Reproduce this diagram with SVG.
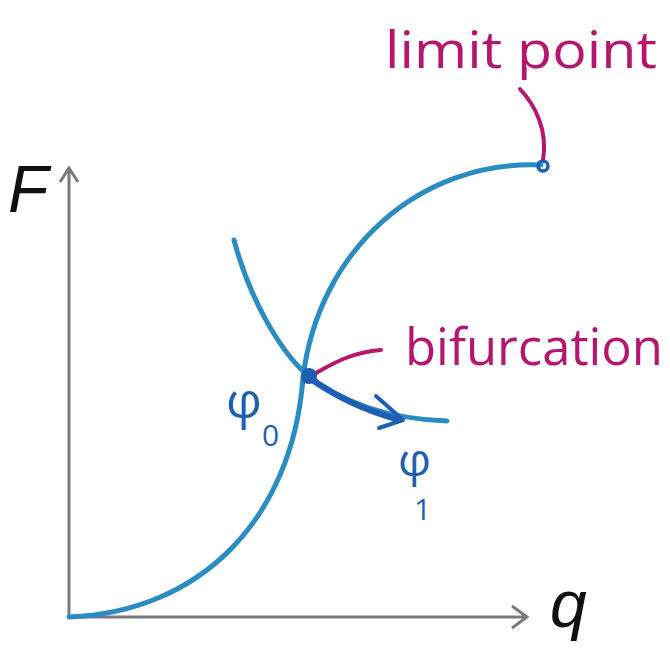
<svg xmlns="http://www.w3.org/2000/svg" width="670" height="651" viewBox="0 0 670 651">
<style>
.axis{stroke:#7a7a7a;stroke-width:3;fill:none}
.curve{stroke:#2b8cc4;stroke-width:5;fill:none;stroke-linecap:round}
.lead{stroke:#b5176f;stroke-width:4;fill:none;stroke-linecap:round}
.mag{fill:#b5176f;font-family:"Open Sans","Liberation Sans",sans-serif}
.blue{fill:#1d5fb0;font-family:"Open Sans","Liberation Sans",sans-serif}
.ax{fill:#111;font-family:"Liberation Sans",Arial,sans-serif;font-style:italic}
</style>
<rect width="670" height="651" fill="#fff"/>
<g id="axes">
<path class="axis" d="M69,617 V168 M60,182 L69,168 L78,182"/>
<path class="axis" d="M69,617 H527 M512,606 L527,617 L512,628"/>
<text class="ax" x="8" y="212" font-size="66">F</text>
<text class="ax" x="550" y="627" font-size="66">q</text>
</g>
<g id="connectors">
<path class="curve" d="M69,617 C200,612 292,520 303,378 C318,250 420,160 541,165"/>
<path class="curve" d="M234,240 C250,300 280,350 305,373 C340,403 390,419 447,421"/>
<path d="M308,377 C340,400 370,412 400,420" stroke="#1d5fb0" stroke-width="6" fill="none" stroke-linecap="round"/>
<path d="M376,396 L403,420 L379,428" stroke="#1d5fb0" stroke-width="4" fill="none" stroke-linecap="round" stroke-linejoin="round"/>
<path class="lead" d="M520,89 C535,105 548,130 543,160"/>
<path class="lead" d="M381,350 C352,352 332,364 316,373"/>
</g>
<g id="limit-point">
<circle cx="543" cy="166" r="5" fill="none" stroke="#1d5fb0" stroke-width="3.5"/>
<text class="mag" x="385" y="68" font-size="52" textLength="272" lengthAdjust="spacingAndGlyphs">limit point</text>
</g>
<g id="bifurcation">
<circle cx="309" cy="376" r="8" fill="#1d5fb0"/>
<text class="mag" x="405" y="365" font-size="52" textLength="258" lengthAdjust="spacingAndGlyphs">bifurcation</text>
</g>
<g id="labels">
<text class="blue" x="226" y="418" font-size="50">φ</text>
<text class="blue" x="262" y="446" font-size="30">0</text>
<text class="blue" x="398" y="476" font-size="46">φ</text>
<text class="blue" x="414" y="520" font-size="30">1</text>
</g>
</svg>
